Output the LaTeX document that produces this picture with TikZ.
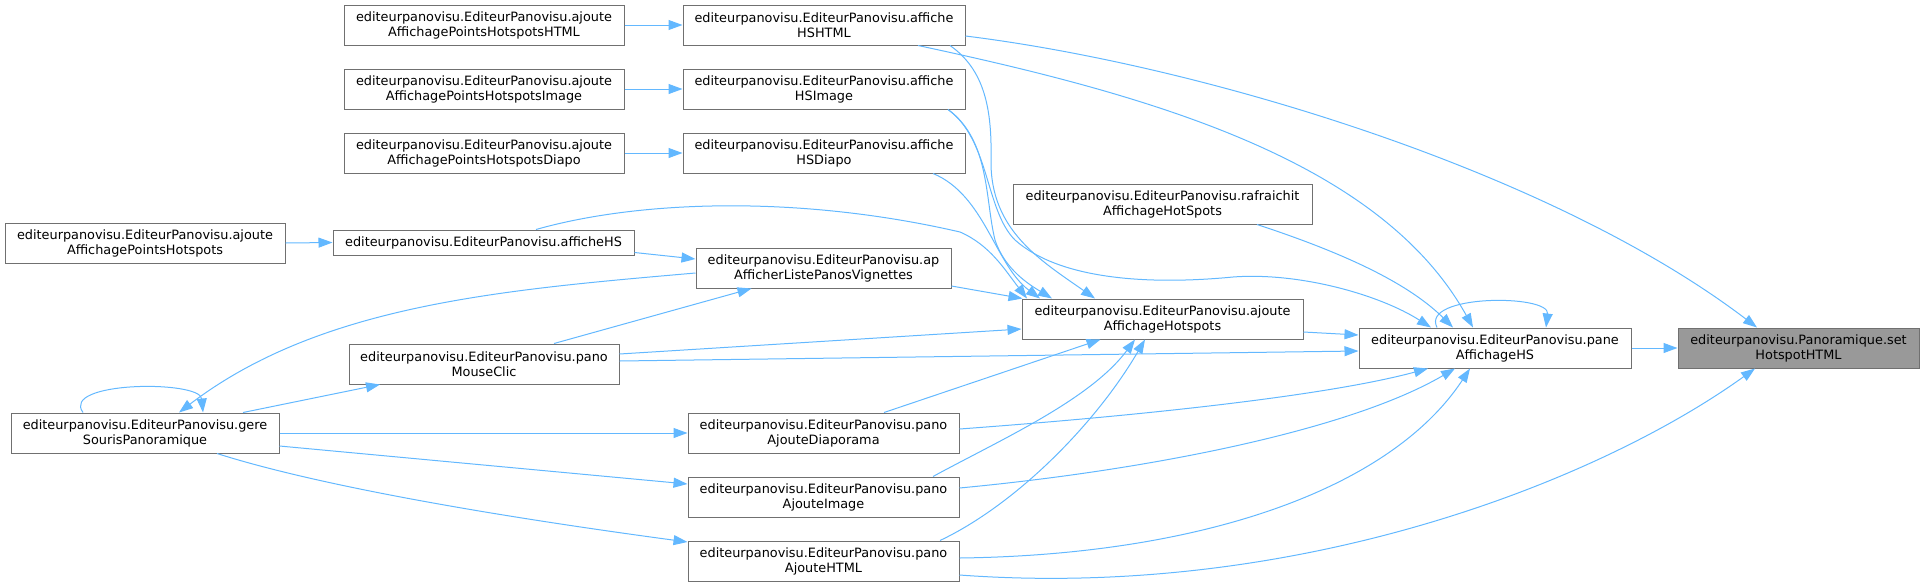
\documentclass[tikz,border=0pt]{standalone}
\usepackage{fontspec}
\newfontfamily\dvs{DejaVu Sans}
\usetikzlibrary{arrows.meta,calc}
\definecolor{edgeblue}{HTML}{63B8FF}
\definecolor{boxgray}{HTML}{707070}
\definecolor{fillgray}{HTML}{999999}
\tikzset{
  box/.style={draw=boxgray, fill=white, line width=1pt, inner sep=0pt, align=center,
    minimum height=40, font={\dvs\fontsize{12.85}{15}\selectfont}},
  call/.style={draw=edgeblue, line width=1pt, -{Triangle[length=14pt,width=10pt]}},
}
\begin{document}
\begin{tikzpicture}[x=1pt,y=-1pt]
\useasboundingbox (0,0) rectangle (1924,587);
% nodes
\node[box, minimum width=280] (aphHTML) at (484,25) {editeurpanovisu.EditeurPanovisu.ajoute\\AffichagePointsHotspotsHTML};
\node[box, minimum width=280] (aphImage) at (484,89) {editeurpanovisu.EditeurPanovisu.ajoute\\AffichagePointsHotspotsImage};
\node[box, minimum width=280] (aphDiapo) at (484,153) {editeurpanovisu.EditeurPanovisu.ajoute\\AffichagePointsHotspotsDiapo};
\node[box, minimum width=280] (aph) at (145,243) {editeurpanovisu.EditeurPanovisu.ajoute\\AffichagePointsHotspots};
\node[box, minimum width=301, minimum height=25] (afficheHS) at (483.5,242.5) {editeurpanovisu.EditeurPanovisu.afficheHS};
\node[box, minimum width=268] (gere) at (145,433) {editeurpanovisu.EditeurPanovisu.gere\\SourisPanoramique};
\node[box, minimum width=270] (mouse) at (484,364) {editeurpanovisu.EditeurPanovisu.pano\\MouseClic};
\node[box, minimum width=282] (hshtml) at (824,25) {editeurpanovisu.EditeurPanovisu.affiche\\HSHTML};
\node[box, minimum width=282] (hsimage) at (824,89) {editeurpanovisu.EditeurPanovisu.affiche\\HSImage};
\node[box, minimum width=282] (hsdiapo) at (824,153) {editeurpanovisu.EditeurPanovisu.affiche\\HSDiapo};
\node[box, minimum width=255] (apaff) at (823.5,268) {editeurpanovisu.EditeurPanovisu.ap\\AfficherListePanosVignettes};
\node[box, minimum width=271] (padiap) at (823.5,433) {editeurpanovisu.EditeurPanovisu.pano\\AjouteDiaporama};
\node[box, minimum width=271] (paimg) at (823.5,497) {editeurpanovisu.EditeurPanovisu.pano\\AjouteImage};
\node[box, minimum width=271] (pahtml) at (823.5,561) {editeurpanovisu.EditeurPanovisu.pano\\AjouteHTML};
\node[box, minimum width=299] (rafr) at (1162.5,204) {editeurpanovisu.EditeurPanovisu.rafraichit\\AffichageHotSpots};
\node[box, minimum width=281] (aah) at (1162.5,319) {editeurpanovisu.EditeurPanovisu.ajoute\\AffichageHotspots};
\node[box, minimum width=272] (pane) at (1495,348) {editeurpanovisu.EditeurPanovisu.pane\\AffichageHS};
\node[box, minimum width=241, fill=fillgray] (set) at (1798.5,348) {editeurpanovisu.Panoramique.set\\HotspotHTML};
% edges
\draw[call] (aphHTML) -- (hshtml);
\draw[call] (aphImage) -- (hsimage);
\draw[call] (aphDiapo) -- (hsdiapo);
\draw[call] (aph.east) -- (afficheHS.west);
\draw[call] ($(afficheHS.east)+(0,10)$) -- ($(apaff.west)+(0,-9)$);
\draw[call] ($(afficheHS.north)+(52.5,0)$) .. controls (640,200) and (800,195) .. (960,232) .. controls (990,245) and (1005,270) .. ($(aah.north)+(-135.5,0)$);
\draw[call] ($(apaff.east)+(0,18)$) -- ($(aah.north)+(-140,0)$);
\draw[call] ($(hshtml.east)+(0,11)$) .. controls (1200,65) and (1550,170) .. ($(set.north)+(-41.5,0)$);
\draw[call] ($(hshtml.south)+(94,0)$) .. controls (1150,95) and (1380,160) .. ($(pane.north)+(-22,0)$);
\draw[call] ($(hshtml.south)+(126,0)$) .. controls (985,70) and (992,110) .. (991,160) .. controls (990,230) and (1040,260) .. ($(aah.north)+(-67.5,0)$);
\draw[call] ($(hsimage.south)+(124,0)$) .. controls (990,140) and (985,200) .. (995,240) .. controls (1005,270) and (1030,285) .. ($(aah.north)+(-110.5,0)$);
\draw[call] ($(hsimage.south)+(124,0)$) .. controls (990,140) and (985,210) .. (1015,240) .. controls (1060,280) and (1150,285) .. (1233,277) .. controls (1300,272) and (1380,295) .. ($(pane.north)+(-64,0)$);
\draw[call] ($(hsdiapo.south)+(109,0)$) .. controls (985,195) and (995,265) .. ($(aah.north)+(-122.5,0)$);
\draw[call] ($(rafr.south)+(94.5,0)$) .. controls (1350,255) and (1410,285) .. ($(pane.north)+(-42,0)$);
\draw[call] ($(aah.east)+(0,13)$) -- ($(pane.west)+(0,-13)$);
\draw[call] ($(mouse.east)+(0,-3)$) -- ($(pane.west)+(0,3)$);
\draw[call] ($(mouse.east)+(0,-10)$) -- ($(aah.west)+(0,10)$);
\draw[call] ($(mouse.north)+(70,0)$) -- ($(apaff.south)+(-72,0)$);
\draw[call] ($(apaff.west)+(0,5)$) .. controls (500,290) and (320,305) .. ($(gere.north)+(34,0)$);
\draw[call] ($(gere.north)+(98,0)$) -- ($(mouse.south)+(-104,0)$);
\draw[call] ($(gere.north)+(-62,0)$) .. controls (60,381) and (200,380) .. ($(gere.north)+(58,0)$);
\draw[call] (gere.east) -- (padiap.west);
\draw[call] ($(gere.east)+(0,13)$) -- ($(paimg.west)+(0,-13)$);
\draw[call] ($(gere.south)+(72,0)$) .. controls (300,480) and (450,510) .. ($(pahtml.west)+(0,-19)$);
\draw[call] ($(padiap.north)+(60.5,0)$) -- ($(aah.south)+(-62,0)$);
\draw[call] ($(paimg.north)+(109.5,0)$) .. controls (1000,440) and (1090,400) .. ($(aah.south)+(-27.5,0)$);
\draw[call] ($(pahtml.north)+(116.5,0)$) .. controls (1015,505) and (1095,425) .. ($(aah.south)+(-17.5,0)$);
\draw[call] ($(padiap.east)+(0,-4)$) .. controls (1150,415) and (1330,395) .. ($(pane.south)+(-67,0)$);
\draw[call] ($(paimg.east)+(0,-9)$) .. controls (1150,470) and (1350,430) .. ($(pane.south)+(-40,0)$);
\draw[call] ($(pahtml.east)+(0,-3)$) .. controls (1200,555) and (1390,490) .. ($(pane.south)+(-25,0)$);
\draw[call] ($(pahtml.east)+(0,14)$) .. controls (1300,600) and (1600,480) .. ($(set.south)+(-43.5,0)$);
\draw[call] (pane) -- (set);
\draw[call] ($(pane.north)+(-58,0)$) .. controls (1420,294) and (1550,294) .. ($(pane.north)+(51,0)$);
\end{tikzpicture}
\end{document}
